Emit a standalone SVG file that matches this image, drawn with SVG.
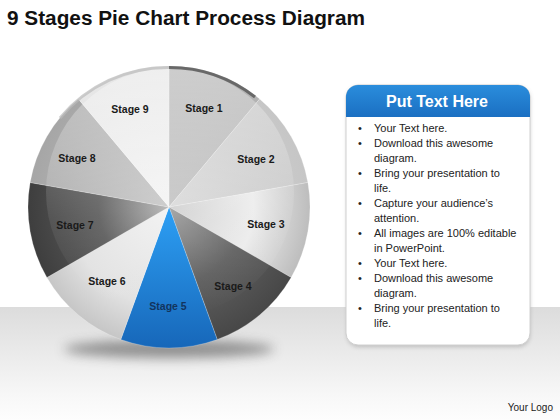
<svg xmlns="http://www.w3.org/2000/svg" width="560" height="420" viewBox="0 0 560 420">
<defs>
<style>
.title{font-family:"Liberation Sans",Arial,sans-serif;font-weight:bold;font-size:20px;fill:#111}
.lbl{font-family:"Liberation Sans",Arial,sans-serif;font-weight:bold;font-size:10.5px;fill:#1a1a1a;text-anchor:middle}
.body{font-family:"Liberation Sans",Arial,sans-serif;font-size:11px;fill:#222}
.hdr{font-family:"Liberation Sans",Arial,sans-serif;font-weight:bold;font-size:16px;fill:#fff;text-anchor:middle}
.logo{font-family:"Liberation Sans",Arial,sans-serif;font-size:10px;fill:#222;text-anchor:end}
.sl{stroke:#ffffff;stroke-opacity:0.35;stroke-width:0.6}
.hi{fill:url(#hl);clip-path:url(#hlclip)}
</style>
<linearGradient id="floor" x1="0" y1="0" x2="0" y2="1">
<stop offset="0" stop-color="#dcdcdc"/><stop offset="0.8" stop-color="#f8f8f8"/><stop offset="1" stop-color="#fdfdfd"/>
</linearGradient>
<radialGradient id="g1" gradientUnits="userSpaceOnUse" cx="169" cy="207" r="141"><stop offset="0" stop-color="#c4c4c4"/><stop offset="1" stop-color="#b2b2b2"/></radialGradient>
<radialGradient id="g2" gradientUnits="userSpaceOnUse" cx="169" cy="207" r="141"><stop offset="0" stop-color="#dadada"/><stop offset="1" stop-color="#c6c6c6"/></radialGradient>
<radialGradient id="g3" gradientUnits="userSpaceOnUse" cx="169" cy="207" r="141"><stop offset="0" stop-color="#d0d0d0"/><stop offset="0.6" stop-color="#ececec"/><stop offset="1" stop-color="#bdbdbd"/></radialGradient>
<radialGradient id="g4" gradientUnits="userSpaceOnUse" cx="169" cy="207" r="141"><stop offset="0" stop-color="#a0a0a0"/><stop offset="0.55" stop-color="#606060"/><stop offset="1" stop-color="#474747"/></radialGradient>
<linearGradient id="g5" x1="0" y1="0" x2="0" y2="1"><stop offset="0" stop-color="#2da0f5"/><stop offset="1" stop-color="#1767b9"/></linearGradient>
<radialGradient id="g6" gradientUnits="userSpaceOnUse" cx="169" cy="207" r="141"><stop offset="0" stop-color="#f2f2f2"/><stop offset="0.7" stop-color="#e2e2e2"/><stop offset="1" stop-color="#c6c6c6"/></radialGradient>
<radialGradient id="g7" gradientUnits="userSpaceOnUse" cx="169" cy="207" r="141"><stop offset="0" stop-color="#b5b5b5"/><stop offset="0.5" stop-color="#5c5c5c"/><stop offset="1" stop-color="#3e3e3e"/></radialGradient>
<radialGradient id="g8" gradientUnits="userSpaceOnUse" cx="169" cy="207" r="141"><stop offset="0" stop-color="#c8c8c8"/><stop offset="1" stop-color="#a6a6a6"/></radialGradient>
<radialGradient id="g9" gradientUnits="userSpaceOnUse" cx="169" cy="207" r="141"><stop offset="0" stop-color="#f4f4f4"/><stop offset="1" stop-color="#e6e6e6"/></radialGradient>
<linearGradient id="hl" gradientUnits="userSpaceOnUse" x1="0" y1="68" x2="0" y2="316"><stop offset="0" stop-color="#fff" stop-opacity="0.35"/><stop offset="0.6" stop-color="#fff" stop-opacity="0.08"/><stop offset="1" stop-color="#fff" stop-opacity="0"/></linearGradient>
<clipPath id="hlclip"><circle cx="170" cy="192" r="124"/></clipPath>
<linearGradient id="hdrg" x1="0" y1="0" x2="0" y2="1"><stop offset="0" stop-color="#2a8ddc"/><stop offset="1" stop-color="#1a6fc2"/></linearGradient>
<filter id="blur" x="-50%" y="-200%" width="200%" height="500%"><feGaussianBlur stdDeviation="6"/></filter>
<filter id="bshadow" x="-10%" y="-10%" width="120%" height="120%"><feGaussianBlur stdDeviation="2"/></filter>
</defs>
<rect width="560" height="420" fill="#ffffff"/>
<rect x="0" y="307" width="560" height="113" fill="url(#floor)"/>
<ellipse cx="169" cy="349" rx="105" ry="9" fill="#444" opacity="0.55" filter="url(#blur)"/>
<g id="pie">
<g id="stage1"><path class="sl" d="M169 207 L169 66 A141 141 0 0 1 259.63 98.99 Z" fill="url(#g1)"/><path class="hi" d="M169 207 L169 66 A141 141 0 0 1 259.63 98.99 Z"/><text class="lbl" x="204" y="112">Stage 1</text></g>
<g id="stage2"><path class="sl" d="M169 207 L259.63 98.99 A141 141 0 0 1 307.86 182.52 Z" fill="url(#g2)"/><path class="hi" d="M169 207 L259.63 98.99 A141 141 0 0 1 307.86 182.52 Z"/><text class="lbl" x="256" y="163">Stage 2</text></g>
<g id="stage3"><path class="sl" d="M169 207 L307.86 182.52 A141 141 0 0 1 291.11 277.5 Z" fill="url(#g3)"/><path class="hi" d="M169 207 L307.86 182.52 A141 141 0 0 1 291.11 277.5 Z"/><text class="lbl" x="266" y="228">Stage 3</text></g>
<g id="stage4"><path class="sl" d="M169 207 L291.11 277.5 A141 141 0 0 1 217.22 339.5 Z" fill="url(#g4)"/><path class="hi" d="M169 207 L291.11 277.5 A141 141 0 0 1 217.22 339.5 Z"/><text class="lbl" x="233" y="290">Stage 4</text></g>
<g id="stage5"><path class="sl" d="M169 207 L217.22 339.5 A141 141 0 0 1 120.78 339.5 Z" fill="url(#g5)"/><text class="lbl" x="168" y="310" style="fill:#12345e">Stage 5</text></g>
<g id="stage6"><path class="sl" d="M169 207 L120.78 339.5 A141 141 0 0 1 46.89 277.5 Z" fill="url(#g6)"/><path class="hi" d="M169 207 L120.78 339.5 A141 141 0 0 1 46.89 277.5 Z"/><text class="lbl" x="107" y="285">Stage 6</text></g>
<g id="stage7"><path class="sl" d="M169 207 L46.89 277.5 A141 141 0 0 1 30.14 182.52 Z" fill="url(#g7)"/><path class="hi" d="M169 207 L46.89 277.5 A141 141 0 0 1 30.14 182.52 Z"/><text class="lbl" x="75" y="229">Stage 7</text></g>
<g id="stage8"><path class="sl" d="M169 207 L30.14 182.52 A141 141 0 0 1 78.37 98.99 Z" fill="url(#g8)"/><path class="hi" d="M169 207 L30.14 182.52 A141 141 0 0 1 78.37 98.99 Z"/><text class="lbl" x="77" y="162">Stage 8</text></g>
<g id="stage9"><path class="sl" d="M169 207 L78.37 98.99 A141 141 0 0 1 169 66 Z" fill="url(#g9)"/><path class="hi" d="M169 207 L78.37 98.99 A141 141 0 0 1 169 66 Z"/><text class="lbl" x="130" y="113">Stage 9</text></g>
<g id="rim">
<path d="M169 67.5 A139.5 139.5 0 0 1 255 97" fill="none" stroke="#555" stroke-width="3" opacity="0.8"/>
<path d="M60 118 A139.5 139.5 0 0 1 169 67.5" fill="none" stroke="#bbb" stroke-width="3" opacity="0.7"/>
</g>
</g>
<text class="title" x="7" y="25" textLength="358" lengthAdjust="spacingAndGlyphs">9 Stages Pie Chart Process Diagram</text>
<g id="textbox">
<rect x="347" y="87" width="183" height="260" rx="12" fill="#888" opacity="0.45" filter="url(#bshadow)"/>
<rect x="346" y="85" width="184" height="260" rx="12" fill="#ffffff" stroke="#d0d0d0" stroke-width="1"/>
<path d="M358 85 H518 A12 12 0 0 1 530 97 V117 H346 V97 A12 12 0 0 1 358 85 Z" fill="url(#hdrg)"/>
<text class="hdr" x="437" y="107">Put Text Here</text>
<g class="body">
<text x="358" y="132">•</text><text x="374" y="132">Your Text here.</text>
<text x="358" y="147">•</text><text x="374" y="147">Download this awesome</text>
<text x="374" y="162">diagram.</text>
<text x="358" y="177">•</text><text x="374" y="177">Bring your presentation to</text>
<text x="374" y="192">life.</text>
<text x="358" y="207">•</text><text x="374" y="207">Capture your audience’s</text>
<text x="374" y="222">attention.</text>
<text x="358" y="237">•</text><text x="374" y="237">All images are 100% editable</text>
<text x="374" y="252">in PowerPoint.</text>
<text x="358" y="267">•</text><text x="374" y="267">Your Text here.</text>
<text x="358" y="282">•</text><text x="374" y="282">Download this awesome</text>
<text x="374" y="297">diagram.</text>
<text x="358" y="312">•</text><text x="374" y="312">Bring your presentation to</text>
<text x="374" y="327">life.</text>
</g>
</g>
<text class="logo" x="553" y="411">Your Logo</text>
</svg>
